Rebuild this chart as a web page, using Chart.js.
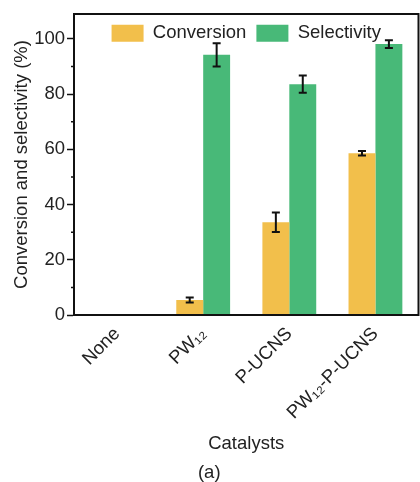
<!DOCTYPE html>
<html><head><meta charset="utf-8">
<script src="https://cdn.jsdelivr.net/npm/chart.js@4/dist/chart.umd.min.js"></script>
<style>html,body{margin:0;padding:0;background:#fff}#wrap{width:420px;height:482px}</style>
</head><body><div id="wrap"><canvas id="c"></canvas></div>
<script>
const categories = ['None', 'PW₁₂', 'P-UCNS', 'PW₁₂-P-UCNS'];
const conversion = [null, 5.4, 33.6, 58.6];
const conversionErr = [null, 0.9, 3.5, 0.8];
const selectivity = [null, 94.2, 83.6, 98.1];
const selectivityErr = [null, 4.2, 3.1, 1.4];
const yTicks = [0, 20, 40, 60, 80, 100];
const yMinorTicks = [10, 30, 50, 70, 90];

const FONT = 'Liberation Sans, Arial, sans-serif';
const TEXT = '#222';

const errorBars = {
  id: 'errorBars',
  afterDatasetsDraw(chart) {
    const ctx = chart.ctx, y = chart.scales.y;
    chart.data.datasets.forEach((ds, i) => {
      const meta = chart.getDatasetMeta(i);
      meta.data.forEach((bar, j) => {
        const v = ds.data[j], e = ds.errors[j];
        if (v == null || !e) return;
        const x = bar.x, yt = y.getPixelForValue(v + e), yb = y.getPixelForValue(v - e);
        ctx.save();
        ctx.strokeStyle = '#111'; ctx.lineWidth = 2;
        ctx.beginPath();
        ctx.moveTo(x, yt); ctx.lineTo(x, yb);
        ctx.moveTo(x - 4, yt); ctx.lineTo(x + 4, yt);
        ctx.moveTo(x - 4, yb); ctx.lineTo(x + 4, yb);
        ctx.stroke();
        ctx.restore();
      });
    });
  }
};

const frame = {
  id: 'frame',
  afterDraw(chart) {
    const {ctx, chartArea: a} = chart, y = chart.scales.y;
    ctx.save();
    ctx.strokeStyle = '#111'; ctx.lineWidth = 2;
    ctx.strokeRect(a.left, a.top, a.right - a.left, a.bottom - a.top);
    ctx.lineWidth = 1.5;
    ctx.beginPath();
    yMinorTicks.forEach(v => {
      const py = y.getPixelForValue(v);
      ctx.moveTo(a.left - 3, py); ctx.lineTo(a.left, py);
    });
    ctx.stroke();
    ctx.restore();
  }
};

// keep the legend inside the plot area: it takes no layout height,
// then gets its real height back once the layout is done
const legendInside = {
  id: 'legendInside',
  beforeLayout(chart) {
    const lg = chart.legend;
    if (lg && !lg._insidePatched) {
      const fit = lg.fit.bind(lg);
      lg.fit = function () { fit(); this._realHeight = this.height; this.height = 0; };
      lg._insidePatched = true;
    }
  },
  afterLayout(chart) {
    const lg = chart.legend;
    if (lg && lg._realHeight) {
      lg.height = lg._realHeight;
      lg.bottom = lg.top + lg._realHeight;
    }
  }
};

new Chart(document.getElementById('c'), {
  type: 'bar',
  data: {
    labels: categories,
    datasets: [
      {label: 'Conversion', data: conversion, errors: conversionErr, backgroundColor: '#F2BF4B', borderWidth: 0},
      {label: 'Selectivity', data: selectivity, errors: selectivityErr, backgroundColor: '#48B978', borderWidth: 0}
    ]
  },
  options: {
    responsive: true,
    maintainAspectRatio: false,
    animation: false,
    layout: {padding: {top: 14, right: 1.5, left: 0, bottom: 0}},
    datasets: {bar: {categoryPercentage: 0.625, barPercentage: 1}},
    plugins: {
      legend: {
        position: 'top',
        align: 'center',
        fullSize: false,
        labels: {boxWidth: 32, boxHeight: 17, padding: 10, color: TEXT, font: {family: FONT, size: 18.5}}
      },
      title: {display: true, text: '(a)', position: 'bottom', color: TEXT, padding: {top: 0, bottom: 0}, font: {family: FONT, size: 18.5, weight: 'normal', lineHeight: 1}},
      tooltip: {enabled: false}
    },
    scales: {
      x: {
        grid: {display: false},
        border: {display: true, color: '#111', width: 2},
        ticks: {color: TEXT, font: {family: FONT, size: 18.5}, minRotation: 45, maxRotation: 45, padding: 0},
        title: {display: true, text: 'Catalysts', color: TEXT, font: {family: FONT, size: 18.5}, padding: {top: 0, bottom: 8.5}},
        afterFit(scale) { scale.height = 482 - 18.5 - 315; }
      },
      y: {
        min: 0, max: 109,
        afterBuildTicks(scale) { scale.ticks = yTicks.map(v => ({value: v})); },
        grid: {display: true, drawOnChartArea: false, drawTicks: true, tickLength: 7, tickColor: '#111', tickWidth: 1.5},
        border: {display: true, color: '#111', width: 2},
        ticks: {color: TEXT, font: {family: FONT, size: 18.5}, padding: 2},
        title: {display: true, text: 'Conversion and selectivity (%)', color: TEXT, font: {family: FONT, size: 18.5}, padding: {top: 11, bottom: 0}},
        afterFit(scale) { scale.width = 74; }
      }
    }
  },
  plugins: [legendInside, errorBars, frame]
});
</script>
</body></html>
